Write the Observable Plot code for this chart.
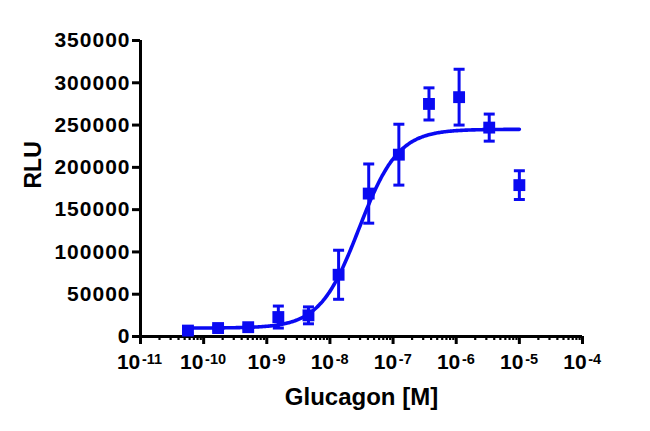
<!DOCTYPE html>
<html>
<head>
<meta charset="utf-8">
<script src="https://cdn.jsdelivr.net/npm/d3@7"></script>
<script src="https://cdn.jsdelivr.net/npm/@observablehq/plot@0.6"></script>
<style>
  html, body { margin: 0; padding: 0; background: #fff; }
  #chart svg { font-family: "Liberation Sans", Arial, sans-serif; }
  #chart svg g[aria-label="y-axis tick label"] text { letter-spacing: 1px; }
  #chart svg g[aria-label="xbase"] text { letter-spacing: 1.2px; }
  #chart svg g[aria-label="xexp"] text { letter-spacing: 0.6px; }
</style>
</head>
<body>
<div id="chart"></div>
<script>
// Concentrations of glucagon (M)
const conc = [5.645e-11, 1.694e-10, 5.081e-10, 1.524e-9, 4.572e-9, 1.372e-8, 4.115e-8, 1.235e-7, 3.704e-7, 1.111e-6, 3.333e-6, 1.0e-5];
// Mean RLU and error (SD/SEM)
const rlu = [7000, 10000, 11000, 23000, 25000, 73000, 169000, 215000, 275000, 283000, 247000, 179000];
const err = [3500, 2500, 2000, 13000, 10000, 29000, 35000, 36000, 19000, 33000, 16000, 17000];
// Fitted 4-parameter logistic curve
const fitBottom = 10000, fitTop = 245000, fitLogEC50 = -7.54, fitHill = 1.4;
const fitRange = [5.645e-11, 1.0e-5];
// Axis ticks
const yTicks = [0, 50000, 100000, 150000, 200000, 250000, 300000, 350000];
const xExponents = [-11, -10, -9, -8, -7, -6, -5, -4];

const blue = "#0a0af2";
const points = conc.map((c, i) => ({c, y: rlu[i], lo: rlu[i] - err[i], hi: rlu[i] + err[i]}));

const lg0 = Math.log10(fitRange[0]), lg1 = Math.log10(fitRange[1]);
const curve = d3.range(0, 301).map(k => {
  const lx = lg0 + (lg1 - lg0) * k / 300;
  return {c: Math.pow(10, lx), y: fitBottom + (fitTop - fitBottom) / (1 + Math.pow(10, (fitLogEC50 - lx) * fitHill))};
});

const majors = xExponents.map(e => Math.pow(10, e));
const minors = [];
for (const e of xExponents.slice(0, -1)) for (let m = 2; m <= 9; m++) minors.push(m * Math.pow(10, e));

const capSymbol = {
  draw(ctx, size) {
    const w = Math.sqrt(size / Math.PI);
    ctx.moveTo(-w, 0);
    ctx.lineTo(w, 0);
  }
};

// Superscript label pieces: widths for centering
const baseSize = 21, expSize = 14.5, baseLS = 1.2, expLS = 0.6, gap = 0.5;
function charW(ch, fs, ls) { return (ch === "-" ? 0.333 : 0.556) * fs + ls; }
const labelMarks = xExponents.map(e => {
  const expStr = String(e);
  const baseW = 2 * charW("1", baseSize, baseLS) - baseLS;
  const expW = [...expStr].reduce((s, ch) => s + charW(ch, expSize, expLS), 0) - expLS;
  const total = baseW + gap + expW;
  const baseLeft = -total / 2;
  return [
    Plot.text([Math.pow(10, e)], {x: d => d, y: () => 0, text: () => "10", textAnchor: "start", lineAnchor: "bottom", dx: baseLeft, dy: 32.5, fontSize: baseSize, fontWeight: "bold", fill: "black", ariaLabel: "xbase"}),
    Plot.text([Math.pow(10, e)], {x: d => d, y: () => 0, text: () => expStr, textAnchor: "start", lineAnchor: "bottom", dx: baseLeft + baseW + gap, dy: 27.5, fontSize: expSize, fontWeight: "bold", fill: "black", ariaLabel: "xexp"})
  ];
}).flat();

const chart = Plot.plot({
  width: 650,
  height: 431,
  marginLeft: 140,
  marginRight: 68,
  marginTop: 40,
  marginBottom: 95,
  style: {background: "#fff", fontFamily: "Liberation Sans, Arial, sans-serif"},
  x: {type: "log", domain: [1e-11, 1e-4]},
  y: {domain: [0, 350000]},
  marks: [
    Plot.axisY({ticks: yTicks, tickSize: 8, tickPadding: 2, strokeWidth: 3, tickFormat: d => String(d), fontSize: 21, fontWeight: "bold", label: null, fill: "black"}),
    Plot.axisX({ticks: majors, tickSize: 8, strokeWidth: 3, tickFormat: () => "", label: null}),
    Plot.axisX({ticks: minors, tickSize: 4, strokeWidth: 2.2, tickFormat: () => "", label: null}),
    Plot.ruleX([1e-11], {y1: 0, y2: 350000, strokeWidth: 3, stroke: "black"}),
    Plot.ruleY([0], {x1: 1e-11, x2: 1e-4, strokeWidth: 3, stroke: "black"}),
    ...labelMarks,
    Plot.text(["RLU"], {frameAnchor: "left", dx: -107, rotate: -90, fontSize: 23, fontWeight: "bold", fill: "black"}),
    Plot.text(["Glucagon [M]"], {frameAnchor: "bottom", lineAnchor: "bottom", dy: 68, fontSize: 24, fontWeight: "bold", fill: "black"}),
    Plot.line(curve, {x: "c", y: "y", stroke: blue, strokeWidth: 3.6, curve: "monotone-x"}),
    Plot.ruleX(points, {x: "c", y1: "lo", y2: "hi", stroke: blue, strokeWidth: 3}),
    Plot.dot(points, {x: "c", y: "lo", symbol: capSymbol, r: 5.5, stroke: blue, strokeWidth: 3, fill: "none"}),
    Plot.dot(points, {x: "c", y: "hi", symbol: capSymbol, r: 5.5, stroke: blue, strokeWidth: 3, fill: "none"}),
    Plot.dot(points, {x: "c", y: "y", symbol: "square", r: 6.7, fill: blue, stroke: "none"})
  ]
});
document.getElementById("chart").appendChild(chart);
</script>
</body>
</html>
